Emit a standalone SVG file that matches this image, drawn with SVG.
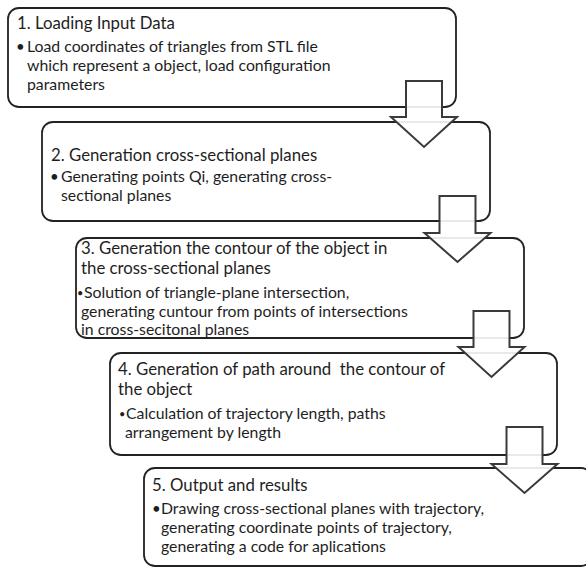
<svg xmlns="http://www.w3.org/2000/svg" width="586" height="569" viewBox="0 0 586 569">
<style>
.box{fill:#fff;stroke:#222;stroke-width:1.8}
.arrow{fill:#fff;fill-opacity:0.9;stroke:#3a3a3a;stroke-width:2}
text{font-family:Lato,"Open Sans","Liberation Sans",sans-serif;fill:#1e1e1e}
.h{font-size:16.8px}
.b{font-size:15.8px}
.d{font-size:15px}
.s{font-size:11px}
</style>
<rect width="586" height="569" fill="#fff"/>
<g id="node1">
<rect class="box" x="8" y="8" width="448" height="99" rx="11"/>
<text class="h" x="17" y="29">1. Loading Input Data</text>
<text class="d" x="16" y="52">•</text>
<text class="b" x="27" y="52">Load coordinates of triangles from STL file</text>
<text class="b" x="27" y="71">which represent a object, load configuration</text>
<text class="b" x="27" y="90">parameters</text>
</g>
<g id="node2">
<rect class="box" x="42" y="122" width="448" height="99" rx="11"/>
<text class="h" x="51" y="161">2. Generation cross-sectional planes</text>
<text class="d" x="50" y="182">•</text>
<text class="b" x="61" y="182">Generating points Qi, generating cross-</text>
<text class="b" x="61" y="201">sectional planes</text>
</g>
<g id="node3">
<rect class="box" x="76" y="238" width="448" height="100" rx="11"/>
<text class="h" x="81" y="254">3. Generation the contour of the object in</text>
<text class="h" x="81" y="274">the cross-sectional planes</text>
<text class="s" x="77" y="297">•</text>
<text class="b" x="84" y="298">Solution of triangle-plane intersection,</text>
<text class="b" x="81" y="317">generating cuntour from points of intersections</text>
<text class="b" x="81" y="335">in cross-secitonal planes</text>
</g>
<g id="node4">
<rect class="box" x="110" y="353" width="447" height="102" rx="11"/>
<text class="h" x="118" y="375" xml:space="preserve">4. Generation of path around  the contour of</text>
<text class="h" x="118" y="395">the object</text>
<text class="s" x="119" y="418">•</text>
<text class="b" x="126" y="419">Calculation of trajectory length, paths</text>
<text class="b" x="125" y="438">arrangement by length</text>
</g>
<g id="node5">
<rect class="box" x="144" y="468" width="448" height="98" rx="11"/>
<text class="h" x="152" y="491">5. Output and results</text>
<text class="d" x="152" y="514">•</text>
<text class="b" x="161" y="514">Drawing cross-sectional planes with trajectory,</text>
<text class="b" x="161" y="533">generating coordinate points of trajectory,</text>
<text class="b" x="161" y="552">generating a code for aplications</text>
</g>
<g id="connectors">
<path class="arrow" d="M406,81 H442 V117 H457 L424,147 L391,117 H406 Z"/>
<path class="arrow" d="M439.5,196 H475.5 V233 H490.5 L457.5,262 L424.5,233 H439.5 Z"/>
<path class="arrow" d="M473.5,311 H509.5 V347 H524.5 L491.5,377 L458.5,347 H473.5 Z"/>
<path class="arrow" d="M506.5,427 H542.5 V464 H557.5 L524.5,493 L491.5,464 H506.5 Z"/>
</g>
</svg>
